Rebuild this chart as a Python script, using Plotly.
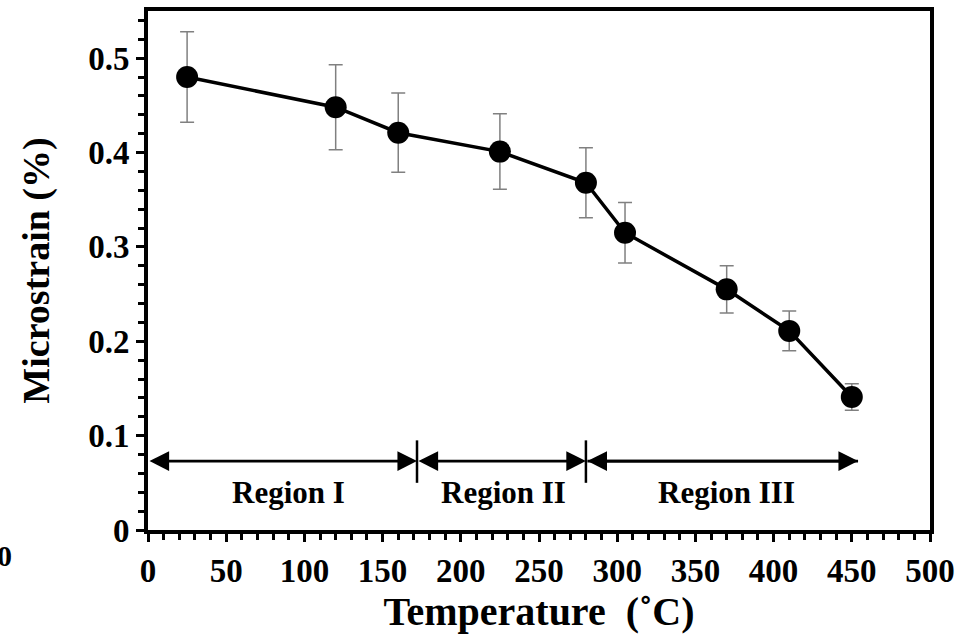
import plotly.graph_objects as go

temperature = [25, 120, 160, 225, 280, 305, 370, 410, 450]
microstrain = [0.480, 0.448, 0.421, 0.401, 0.368, 0.315, 0.255, 0.211, 0.141]
error = [0.048, 0.045, 0.042, 0.040, 0.037, 0.032, 0.025, 0.021, 0.014]

region_bounds = [0, 172, 280, 454]
region_names = ["Region I", "Region II", "Region III"]
region_label_x = [90, 227, 370]
arrow_y = 0.073
label_y = 0.040
sep_y = [0.050, 0.095]

FONT = "Liberation Serif"

fig = go.Figure()
fig.add_trace(go.Scatter(
    x=temperature, y=microstrain, mode="lines+markers",
    line=dict(color="black", width=3.5),
    marker=dict(color="black", size=22),
    error_y=dict(type="data", array=error, visible=True,
                 color="#808080", thickness=1.5, width=7),
    showlegend=False,
))

# region arrows
for i in range(3):
    x0, x1 = region_bounds[i], region_bounds[i + 1]
    fig.add_annotation(
        x=x1, y=arrow_y, ax=x0, ay=arrow_y,
        xref="x", yref="y", axref="x", ayref="y",
        text="", showarrow=True, arrowhead=2, startarrowhead=2,
        arrowside="end" if i == 2 else "end+start",
        arrowsize=1.4, startarrowsize=1.4, arrowwidth=2.8, arrowcolor="black",
        standoff=0, startstandoff=0,
    )
    if i == 2:
        fig.add_annotation(
            x=x1, y=arrow_y, ax=x0, ay=arrow_y,
            xref="x", yref="y", axref="x", ayref="y",
            text="", showarrow=True, arrowhead=2, startarrowhead=2,
            arrowside="start",
            arrowsize=1.4, startarrowsize=1.4, arrowwidth=2.8, arrowcolor="black",
            standoff=0, startstandoff=0,
        )
    fig.add_annotation(
        x=region_label_x[i], y=label_y, xref="x", yref="y",
        text="<b>%s</b>" % region_names[i], showarrow=False,
        font=dict(family=FONT, size=31, color="black"),
    )

for b in region_bounds[1:3]:
    fig.add_shape(type="line", x0=b, x1=b, y0=sep_y[0], y1=sep_y[1],
                  xref="x", yref="y", line=dict(color="black", width=2.5))

# stray zero at far left
fig.add_annotation(
    x=-0.171, y=-0.05, xref="paper", yref="paper", text="<b>0</b>",
    showarrow=False, xanchor="right", yanchor="middle",
    font=dict(family=FONT, size=30, color="black"),
)

axis_common = dict(
    showline=True, linecolor="black", linewidth=4, mirror=True,
    ticks="outside", ticklen=8, tickwidth=3, tickcolor="black",
    showgrid=False, zeroline=False, automargin=False,
    tickfont=dict(family=FONT, size=33, color="black"),
)

fig.update_xaxes(
    range=[0, 500], dtick=50, tick0=0,
    minor=dict(dtick=10, ticks="outside", ticklen=6, tickwidth=3, tickcolor="black"),
    title=dict(text="<b>Temperature  (˚C)</b>", font=dict(family=FONT, size=40, color="black"), standoff=7),
    tickprefix="<b>", ticksuffix="</b>",
    **axis_common,
)
fig.update_yaxes(
    range=[0, 0.55], dtick=0.1, tick0=0, tickformat=".1~f",
    minor=dict(dtick=0.02, ticks="outside", ticklen=6, tickwidth=3, tickcolor="black"),
    title=dict(text="<b>Microstrain (%)</b>", font=dict(family=FONT, size=38, color="black"), standoff=28),
    tickprefix="<b>", ticksuffix="</b>",
    **axis_common,
)

fig.update_layout(
    width=961, height=635,
    margin=dict(l=148, r=31, t=11, b=105),
    plot_bgcolor="white", paper_bgcolor="white",
    font=dict(family=FONT, color="black"),
)

fig.write_html("out.html", config={"displayModeBar": False},
               post_script="document.body.style.margin='0';document.body.style.overflow='hidden';")
